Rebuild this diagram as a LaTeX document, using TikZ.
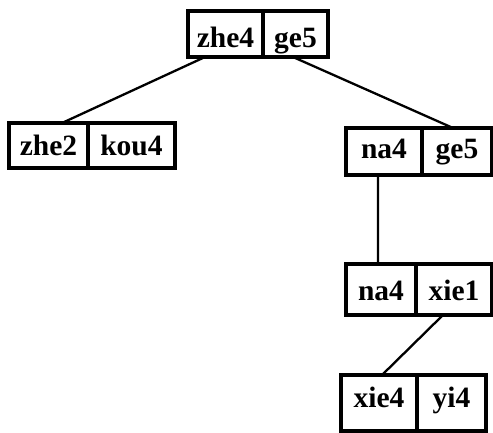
\documentclass[tikz,border=0pt]{standalone}
\usepackage{fontspec}
\setmainfont{Liberation Serif}
\begin{document}
\begin{tikzpicture}[x=1bp,y=-1bp,
  cell/.style={draw, line width=3.4bp, inner sep=0pt, outer sep=0pt,
    font=\fontsize{29.5bp}{31bp}\selectfont\bfseries, text height=#1, text depth=0pt},
  link/.style={line width=2.3bp}]
\useasboundingbox (0,0) rectangle (493,432);
% root: zhe4 | ge5
\node[cell=26bp, minimum width=75bp, minimum height=46bp] (tA) at (225.5,34) {zhe4};
\node[cell=26bp, minimum width=65bp, minimum height=46bp] (tB) at (295.5,34) {ge5};
% left child: zhe2 | kou4
\node[cell=19bp, minimum width=79bp, minimum height=45bp] (lA) at (48.5,145.5) {zhe2};
\node[cell=19bp, minimum width=87bp, minimum height=45bp] (lB) at (131.5,145.5) {kou4};
% right child: na4 | ge5
\node[cell=13bp, minimum width=76bp, minimum height=47bp] (rA) at (384,151.5) {na4};
\node[cell=13bp, minimum width=70bp, minimum height=47bp] (rB) at (457,151.5) {ge5};
% na4 | xie1
\node[cell=21bp, minimum width=70bp, minimum height=51bp] (sA) at (381,289.5) {na4};
\node[cell=21bp, minimum width=76bp, minimum height=51bp] (sB) at (454,289.5) {xie1};
% xie4 | yi4
\node[cell=8bp, minimum width=76bp, minimum height=56bp] (uA) at (379,403) {xie4};
\node[cell=8bp, minimum width=69bp, minimum height=56bp] (uB) at (451.5,403) {yi4};
% connectors
\draw[link] ([xshift=17bp]tA.south west) -- ([xshift=53bp]lA.north west);
\draw[link] ([xshift=30bp]tB.south west) -- ([xshift=31bp]rB.north west);
\draw[link] ([xshift=32bp]rA.south west) -- ([xshift=32bp]sA.north west);
\draw[link] ([xshift=27bp]sB.south west) -- ([xshift=41bp]uA.north west);
\end{tikzpicture}
\end{document}
